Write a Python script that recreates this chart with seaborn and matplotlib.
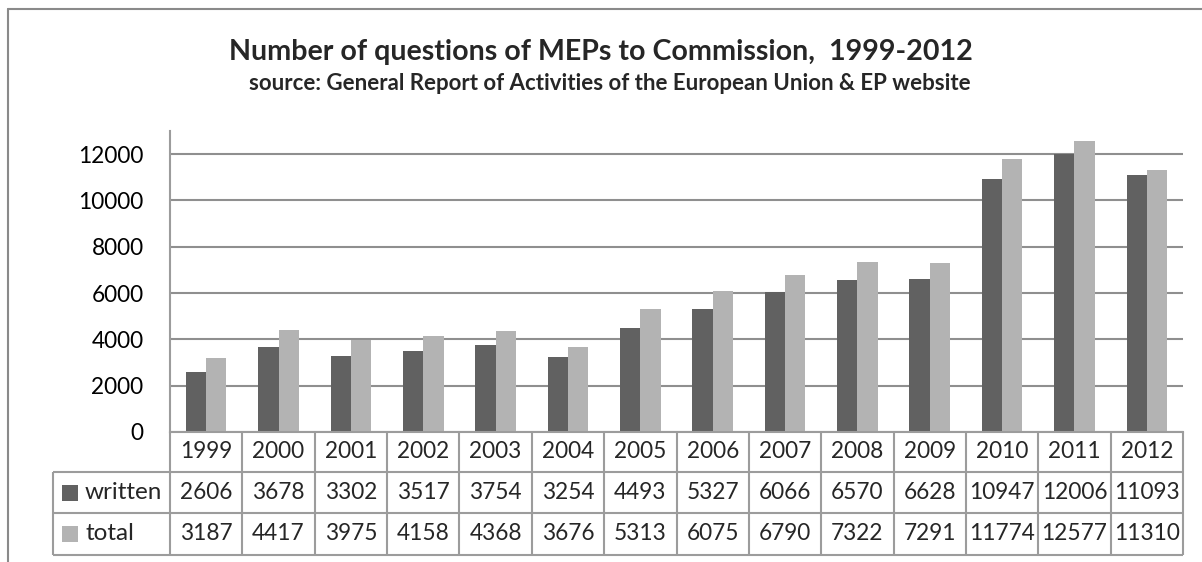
import matplotlib
matplotlib.use("Agg")
import matplotlib.pyplot as plt
from matplotlib.lines import Line2D
from matplotlib.patches import Rectangle
import matplotlib.transforms as mtransforms
import numpy as np
import pandas as pd
import seaborn as sns

# Data
years = ["1999", "2000", "2001", "2002", "2003", "2004", "2005",
         "2006", "2007", "2008", "2009", "2010", "2011", "2012"]
written = [2606, 3678, 3302, 3517, 3754, 3254, 4493,
           5327, 6066, 6570, 6628, 10947, 12006, 11093]
total = [3187, 4417, 3975, 4158, 4368, 3676, 5313,
         6075, 6790, 7322, 7291, 11774, 12577, 11310]
series_names = ["written", "total"]
series_colors = ["#616161", "#b3b3b3"]

title = "Number of questions of MEPs to Commission,  1999-2012"
subtitle = "source: General Report of Activities of the European Union & EP website"

df = pd.DataFrame({
    "year": years * 2,
    "count": written + total,
    "series": ["written"] * len(years) + ["total"] * len(years),
})

sns.set_theme(style="white")
plt.rcParams["font.family"] = ["Lato", "DejaVu Sans"]

W, H = 1202, 562
fig = plt.figure(figsize=(W / 100, H / 100), dpi=100)
fig.patch.set_facecolor("white")

# Plot area in pixel terms
left_px, right_px, top_px, base_px = 170, 1183, 131, 432
ax = fig.add_axes([left_px / W, 1 - base_px / H,
                   (right_px - left_px) / W, (base_px - top_px) / H])

sns.barplot(data=df, x="year", y="count", hue="series",
            hue_order=series_names, palette=series_colors,
            width=0.56, gap=0, saturation=1, legend=False, ax=ax,
            edgecolor="none")

grid_c = "#8f8f8f"
line_c = "#9c9c9c"
ax.set_ylim(0, 13000)
ax.set_xlim(-0.5, len(years) - 0.5)
ax.set_yticks(np.arange(0, 12001, 2000))
ax.set_yticklabels([str(v) for v in range(0, 12001, 2000)])
ax.yaxis.grid(True, color=grid_c, linewidth=1.5)
ax.set_axisbelow(True)
ax.set_xticks([])
ax.set_xlabel("")
ax.set_ylabel("")
ax.tick_params(axis="y", length=0, pad=19, labelsize=16.3, labelcolor="black")
for s in ["top", "right"]:
    ax.spines[s].set_visible(False)
for s in ["left", "bottom"]:
    ax.spines[s].set_color(line_c)
    ax.spines[s].set_linewidth(1.5)

# Data table underneath the bars
plot_h = base_px - top_px
px_per_cat = (right_px - left_px) / len(years)
h1 = -(472 - base_px) / plot_h
h2 = -(513 - base_px) / plot_h
h3 = -(555 - base_px) / plot_h
x_leg = -0.5 - (170 - 53) / px_per_cat
n = len(years)
tr = mtransforms.blended_transform_factory(ax.transData, ax.transAxes)

def tline(xs, ys):
    ax.add_line(Line2D(xs, ys, transform=tr, color=line_c, lw=1.5,
                       clip_on=False, solid_capstyle="butt"))

for yy in [h1, h2, h3]:
    tline([x_leg, n - 0.5], [yy, yy])
tline([x_leg, x_leg], [h1, h3])
for i in range(n + 1):
    tline([i - 0.5, i - 0.5], [0, h3])

fs = 16.3
for i, yr in enumerate(years):
    ax.text(i, h1 / 2, yr, transform=tr, ha="center", va="center",
            fontsize=fs, clip_on=False)
    ax.text(i, (h1 + h2) / 2, str(written[i]), transform=tr, ha="center",
            va="center", fontsize=fs, clip_on=False)
    ax.text(i, (h2 + h3) / 2, str(total[i]), transform=tr, ha="center",
            va="center", fontsize=fs, clip_on=False)

sw_x0 = -0.5 - (170 - 62) / px_per_cat
sw_w = 16 / px_per_cat
sw_h = 16 / plot_h
txt_x = -0.5 - (170 - 85) / px_per_cat
for name, color, (ya, yb) in zip(series_names, series_colors,
                                 [(h1, h2), (h2, h3)]):
    yc = (ya + yb) / 2
    ax.add_patch(Rectangle((sw_x0, yc - sw_h / 2), sw_w, sw_h, transform=tr,
                           facecolor=color, edgecolor="none", clip_on=False))
    ax.text(txt_x, yc, name, transform=tr, ha="left", va="center",
            fontsize=17.5, clip_on=False)

# Titles
fig.text(0.5, 1 - 52 / H, title, ha="center", va="center",
         fontsize=20.6, fontweight="bold")
fig.text(0.5075, 1 - 83 / H, subtitle, ha="center", va="center",
         fontsize=16, fontweight="bold")

# Chart frame
fig.add_artist(Line2D([8 / W, 8 / W], [0, 1 - 9 / H], transform=fig.transFigure,
                      color="#8a8a8a", lw=1.5))
fig.add_artist(Line2D([8 / W, 1], [1 - 9 / H, 1 - 9 / H], transform=fig.transFigure,
                      color="#8a8a8a", lw=1.5))

fig.savefig("out.png", dpi=100)
